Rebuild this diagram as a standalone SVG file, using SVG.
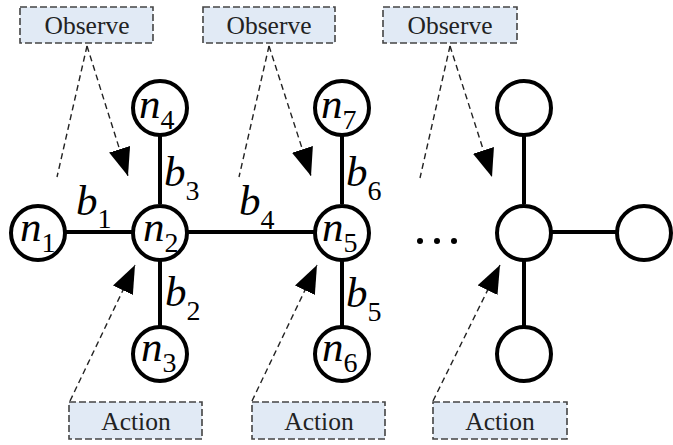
<svg xmlns="http://www.w3.org/2000/svg" width="673" height="445" viewBox="0 0 673 445">
<style>
.box{fill:#e1eaf5;stroke:#444;stroke-width:1.6;stroke-dasharray:7 3}
.lbl{font-size:25.5px;fill:#222;text-anchor:middle}
.node{fill:#fff;stroke:#000;stroke-width:4}
.edge{stroke:#000;stroke-width:4;fill:none}
.dash{stroke:#222;stroke-width:1.4;stroke-dasharray:6 4;fill:none}
.var{font-size:43px;font-style:italic;fill:#000}
.sub{font-size:28px;font-style:normal}
</style>
<defs>
<marker id="ah" markerUnits="userSpaceOnUse" markerWidth="30" markerHeight="22" refX="28" refY="11" orient="auto">
<path d="M0,0 L28,11 L0,22 Z" fill="#000"/>
</marker>
</defs>
<rect width="673" height="445" fill="#fff"/>
<g id="connectors">
<line class="edge" x1="66" y1="232" x2="132" y2="232"/>
<line class="edge" x1="188" y1="232" x2="314" y2="232"/>
<line class="edge" x1="552" y1="232" x2="616" y2="232"/>
<line class="edge" x1="160" y1="136" x2="160" y2="204"/>
<line class="edge" x1="160" y1="260" x2="160" y2="326"/>
<line class="edge" x1="342" y1="136" x2="342" y2="204"/>
<line class="edge" x1="342" y1="260" x2="342" y2="326"/>
<line class="edge" x1="524" y1="136" x2="524" y2="204"/>
<line class="edge" x1="524" y1="260" x2="524" y2="326"/>
<line class="dash" x1="87" y1="46" x2="57" y2="177"/>
<line class="dash" x1="87" y1="46" x2="128" y2="176" marker-end="url(#ah)"/>
<line class="dash" x1="269" y1="46" x2="239" y2="177"/>
<line class="dash" x1="269" y1="46" x2="311" y2="176" marker-end="url(#ah)"/>
<line class="dash" x1="450" y1="46" x2="420" y2="178"/>
<line class="dash" x1="450" y1="46" x2="492" y2="177" marker-end="url(#ah)"/>
<line class="dash" x1="70" y1="401" x2="135" y2="265" marker-end="url(#ah)"/>
<line class="dash" x1="252" y1="401" x2="317" y2="265" marker-end="url(#ah)"/>
<line class="dash" x1="433" y1="401" x2="500" y2="265" marker-end="url(#ah)"/>
</g>
<g id="observe1"><rect class="box" x="20" y="7" width="133" height="36"/><text class="lbl" x="87" y="34" style="font-family:'Liberation Serif',serif">Observe</text></g>
<g id="observe2"><rect class="box" x="203" y="7" width="132" height="36"/><text class="lbl" x="269" y="34" style="font-family:'Liberation Serif',serif">Observe</text></g>
<g id="observe3"><rect class="box" x="383" y="7" width="134" height="36"/><text class="lbl" x="450" y="34" style="font-family:'Liberation Serif',serif">Observe</text></g>
<g id="action1"><rect class="box" x="69" y="402" width="133" height="37"/><text class="lbl" x="136" y="430" style="font-family:'Liberation Serif',serif">Action</text></g>
<g id="action2"><rect class="box" x="252" y="402" width="133" height="37"/><text class="lbl" x="319" y="430" style="font-family:'Liberation Serif',serif">Action</text></g>
<g id="action3"><rect class="box" x="433" y="402" width="134" height="37"/><text class="lbl" x="500" y="430" style="font-family:'Liberation Serif',serif">Action</text></g>
<g id="n1"><circle class="node" cx="38" cy="233" r="27"/><text class="var" x="20" y="241" style="font-family:'Liberation Serif',serif">n<tspan class="sub" dy="11">1</tspan></text></g>
<g id="n2"><circle class="node" cx="160" cy="233" r="27"/><text class="var" x="143" y="241" style="font-family:'Liberation Serif',serif">n<tspan class="sub" dy="11">2</tspan></text></g>
<g id="n3"><circle class="node" cx="160" cy="354" r="27"/><text class="var" x="141" y="361" style="font-family:'Liberation Serif',serif">n<tspan class="sub" dy="11">3</tspan></text></g>
<g id="n4"><circle class="node" cx="160" cy="108" r="27"/><text class="var" x="139" y="118" style="font-family:'Liberation Serif',serif">n<tspan class="sub" dy="11">4</tspan></text></g>
<g id="n5"><circle class="node" cx="342" cy="233" r="27"/><text class="var" x="322" y="241" style="font-family:'Liberation Serif',serif">n<tspan class="sub" dy="11">5</tspan></text></g>
<g id="n6"><circle class="node" cx="342" cy="354" r="27"/><text class="var" x="322" y="361" style="font-family:'Liberation Serif',serif">n<tspan class="sub" dy="11">6</tspan></text></g>
<g id="n7"><circle class="node" cx="342" cy="108" r="27"/><text class="var" x="321" y="118" style="font-family:'Liberation Serif',serif">n<tspan class="sub" dy="11">7</tspan></text></g>
<g id="r_center"><circle class="node" cx="524" cy="233" r="27"/></g>
<g id="r_top"><circle class="node" cx="524" cy="108" r="27"/></g>
<g id="r_bottom"><circle class="node" cx="524" cy="354" r="27"/></g>
<g id="r_right"><circle class="node" cx="644" cy="233" r="27"/></g>
<g id="labels">
<text class="var" x="76" y="215" style="font-family:'Liberation Serif',serif">b<tspan class="sub" dy="13">1</tspan></text>
<text class="var" x="164" y="186" style="font-family:'Liberation Serif',serif">b<tspan class="sub" dy="14">3</tspan></text>
<text class="var" x="239" y="215" style="font-family:'Liberation Serif',serif">b<tspan class="sub" dy="14">4</tspan></text>
<text class="var" x="165" y="306" style="font-family:'Liberation Serif',serif">b<tspan class="sub" dy="14">2</tspan></text>
<text class="var" x="346" y="186" style="font-family:'Liberation Serif',serif">b<tspan class="sub" dy="14">6</tspan></text>
<text class="var" x="346" y="307" style="font-family:'Liberation Serif',serif">b<tspan class="sub" dy="14">5</tspan></text>
</g>
<g id="ellipsis" fill="#000"><circle cx="420" cy="241" r="3"/><circle cx="437" cy="241" r="3"/><circle cx="454" cy="241" r="3"/></g>
</svg>
